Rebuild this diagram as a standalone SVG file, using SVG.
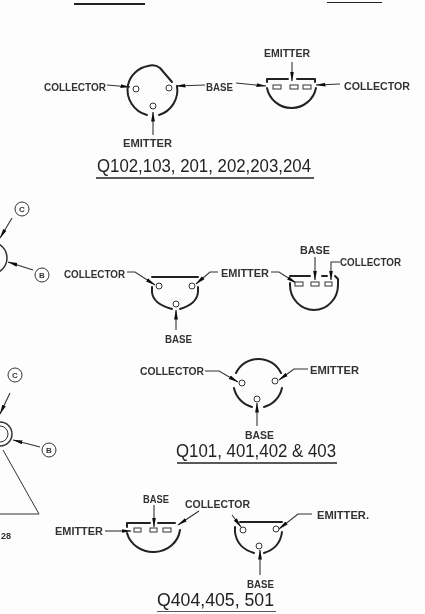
<svg xmlns="http://www.w3.org/2000/svg" width="425" height="614" viewBox="0 0 425 614">
<style>
.s{fill:none;stroke:#222;stroke-width:2;stroke-linecap:round;stroke-linejoin:round}
.t{fill:none;stroke:#333;stroke-width:1}
.c{fill:none;stroke:#333;stroke-width:1.1;marker-end:url(#a)}
.p{fill:#fff;stroke:#333;stroke-width:1}
.l{font-family:"Liberation Sans",Arial,sans-serif;font-size:11.5px;font-weight:bold;fill:#333}
.n{font-family:"Liberation Sans",Arial,sans-serif;font-size:8px;font-weight:bold;fill:#333;text-anchor:middle}
.h{font-family:"Liberation Sans",Arial,sans-serif;font-size:18px;fill:#222}
.u{fill:none;stroke:#222;stroke-width:1.5}
</style>
<defs>
<marker id="a" viewBox="0 0 10 5" refX="9.5" refY="2.5" markerWidth="10" markerHeight="5" markerUnits="userSpaceOnUse" orient="auto"><path d="M0 0.6L10 2.5L0 4.4Z" fill="#111"/></marker>
<filter id="b" x="0" y="0" width="100%" height="100%"><feGaussianBlur stdDeviation="0.4"/></filter>
</defs>
<rect width="425" height="614" fill="#fdfdfd"/>
<g filter="url(#b)">
<g id="header-rules">
<path class="u" d="M74 4H145" style="stroke-width:2"/>
<path class="u" d="M327 2H382" style="stroke-width:2"/>
</g>
<g id="connectors">
<path class="c" d="M107 85L130 87"/>
<path class="c" d="M205 85L176 86"/>
<path class="c" d="M236 83L266 86"/>
<path class="c" d="M340 84L316 85"/>
<path class="c" d="M292 62V81"/>
<path class="c" d="M153 135V112"/>
<path class="c" d="M127 272H135L155 285"/>
<path class="c" d="M218 272H210L196 284"/>
<path class="c" d="M176 330V310"/>
<path class="c" d="M271 272H279L296 283"/>
<path class="c" d="M315 257V280"/>
<path class="c" d="M340 262H331V280"/>
<path class="c" d="M205 371H219L238 382"/>
<path class="c" d="M308 369H294L279 380"/>
<path class="c" d="M257 426V403"/>
<path class="c" d="M105 531H131"/>
<path class="c" d="M154 505V527"/>
<path class="c" d="M199 511L178 525"/>
<path class="c" d="M232 515L241 527"/>
<path class="c" d="M312 514H298L279 529"/>
<path class="c" d="M260 575V550"/>
<path class="c" d="M12 218L0 238"/>
<path class="c" d="M33 270L8 262"/>
<path class="c" d="M10 393L0 414"/>
<path class="c" d="M40 447L13 440"/>
</g>
<g id="q102-round">
<path class="s" d="M172 82L160 68Q155 64 148 66A25 25 0 0 0 128 85A26 26 0 0 0 147 115M159 115A26 26 0 0 0 177 86"/>
<circle class="p" cx="136" cy="89" r="3"/><circle class="p" cx="169" cy="88" r="3"/><circle class="p" cx="153" cy="106" r="3"/>
</g>
<g id="q102-flat">
<path class="s" d="M267 88A25 25 0 0 0 316 88M267 82V79H288M297 79H315V82"/>
<rect class="p" x="273" y="85" width="8" height="4"/><rect class="p" x="290" y="85" width="8" height="4"/><rect class="p" x="303" y="85" width="8" height="4"/>
</g>
<g id="q101-flat-left">
<path class="s" d="M152 277H198M152 287V292Q153 304 172 309M198 287V292Q197 304 180 309"/>
<circle class="p" cx="159" cy="286" r="3"/><circle class="p" cx="192" cy="286" r="3"/><circle class="p" cx="176" cy="304" r="3"/>
</g>
<g id="q101-flat-right">
<path class="s" d="M290 276H310M322 276H327M335 276L338 279V285A24 25 0 0 1 290 285V283"/>
<rect class="p" x="295" y="282" width="8" height="4"/><rect class="p" x="311" y="282" width="8" height="4"/><rect class="p" x="325" y="282" width="7" height="4"/>
</g>
<g id="q101-round">
<path class="s" d="M236 373A25 25 0 0 1 281 373M234 388A25 25 0 0 0 252 407M264 407A25 25 0 0 0 282 388"/>
<circle class="p" cx="242" cy="383" r="3"/><circle class="p" cx="275" cy="381" r="3"/><circle class="p" cx="257" cy="399" r="3"/>
</g>
<g id="q404-flat">
<path class="s" d="M127 527V523H150M158 523H175M127 533A27 25 0 0 0 180 530"/>
<rect class="p" x="134" y="528" width="7" height="4"/><rect class="p" x="150" y="528" width="7" height="4"/><rect class="p" x="163" y="528" width="8" height="4"/>
</g>
<g id="q404-round">
<path class="s" d="M240 522H282M235 527V532Q237 548 254 553M282 532Q280 548 264 553"/>
<circle class="p" cx="243" cy="530" r="3"/><circle class="p" cx="276" cy="529" r="3"/><circle class="p" cx="259" cy="546" r="3"/>
</g>
<g id="side-top">
<circle class="t" cx="-9" cy="258" r="16" style="stroke-width:1.5"/>
<circle class="p" cx="22" cy="209" r="7"/><text class="n" x="22" y="212">C</text>
<circle class="p" cx="42" cy="275" r="7"/><text class="n" x="42" y="278">B</text>
</g>
<g id="side-bottom">
<circle class="t" cx="0" cy="434" r="12" style="stroke-width:1.5"/>
<circle class="t" cx="0" cy="434" r="8"/>
<circle class="p" cx="15" cy="375" r="7"/><text class="n" x="15" y="378">C</text>
<circle class="p" cx="49" cy="450" r="7"/><text class="n" x="49" y="453">B</text>
<path class="t" d="M3 450L39 514H0"/>
<text class="n" x="6" y="539" style="font-size:9px">28</text>
</g>
<g id="labels">
<text class="l" x="44" y="91" textLength="62" lengthAdjust="spacingAndGlyphs">COLLECTOR</text>
<text class="l" x="206" y="91" textLength="27" lengthAdjust="spacingAndGlyphs">BASE</text>
<text class="l" x="344" y="90" textLength="66" lengthAdjust="spacingAndGlyphs">COLLECTOR</text>
<text class="l" x="264" y="57" textLength="46" lengthAdjust="spacingAndGlyphs">EMITTER</text>
<text class="l" x="123" y="147" textLength="49" lengthAdjust="spacingAndGlyphs">EMITTER</text>
<text class="l" x="64" y="278" textLength="61" lengthAdjust="spacingAndGlyphs">COLLECTOR</text>
<text class="l" x="221" y="277" textLength="48" lengthAdjust="spacingAndGlyphs">EMITTER</text>
<text class="l" x="165" y="343" textLength="27" lengthAdjust="spacingAndGlyphs">BASE</text>
<text class="l" x="300" y="254" textLength="30" lengthAdjust="spacingAndGlyphs">BASE</text>
<text class="l" x="340" y="266" textLength="61" lengthAdjust="spacingAndGlyphs">COLLECTOR</text>
<text class="l" x="140" y="375" textLength="64" lengthAdjust="spacingAndGlyphs">COLLECTOR</text>
<text class="l" x="310" y="374" textLength="49" lengthAdjust="spacingAndGlyphs">EMITTER</text>
<text class="l" x="245" y="439" textLength="29" lengthAdjust="spacingAndGlyphs">BASE</text>
<text class="l" x="143" y="503" textLength="26" lengthAdjust="spacingAndGlyphs">BASE</text>
<text class="l" x="185" y="508" textLength="65" lengthAdjust="spacingAndGlyphs">COLLECTOR</text>
<text class="l" x="55" y="535" textLength="48" lengthAdjust="spacingAndGlyphs">EMITTER</text>
<text class="l" x="317" y="519" textLength="52" lengthAdjust="spacingAndGlyphs">EMITTER.</text>
<text class="l" x="247" y="588" textLength="27" lengthAdjust="spacingAndGlyphs">BASE</text>
</g>
<g id="titles">
<text class="h" x="97" y="172" textLength="214" lengthAdjust="spacingAndGlyphs">Q102,103, 201, 202,203,204</text>
<path class="u" d="M96 178H314"/>
<text class="h" x="176" y="457" textLength="160" lengthAdjust="spacingAndGlyphs">Q101, 401,402 &amp; 403</text>
<path class="u" d="M177 463H337"/>
<text class="h" x="157" y="606" textLength="117" lengthAdjust="spacingAndGlyphs">Q404,405, 501</text>
<path class="u" d="M157 612H276"/>
</g>
</g>
</svg>
